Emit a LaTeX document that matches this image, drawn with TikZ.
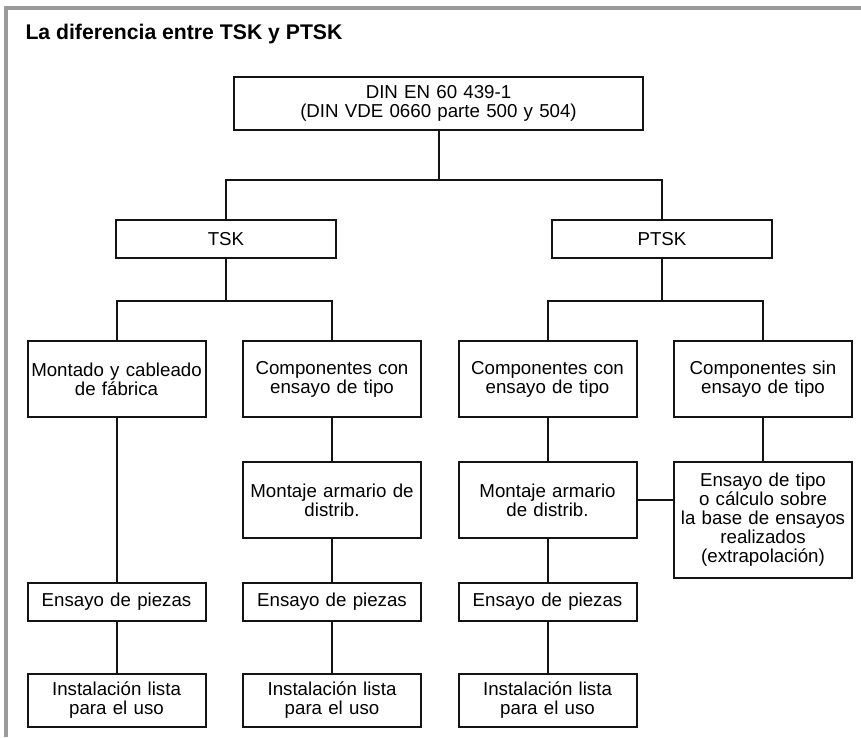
\documentclass[tikz,border=0pt]{standalone}
\usepackage{fontspec}
\setmainfont{Liberation Sans}
\usepackage{tikz}
\usetikzlibrary{positioning, calc}
\definecolor{framegray}{RGB}{155, 155, 155}
\definecolor{linkblack}{RGB}{20, 20, 20}
\tikzset{
  box/.style={rectangle, draw=linkblack, line width=2pt, text width=#1,
              minimum width=#1, align=center, inner sep=0pt,
              font=\fontsize{18.7}{19}\selectfont},
  box/.default=178pt,
  link/.style={draw=linkblack, line width=2pt},
  frameline/.style={draw=framegray, line width=4pt},
}

\begin{document}
\begin{tikzpicture}[x=1pt, y=-1pt]
  \useasboundingbox (0,0) rectangle (861,737);
  % Frame and title
  \draw[frameline] (6,737) -- (6,8) -- (861,8);
  \node[anchor=base west, font=\bfseries\fontsize{21.2}{25}\selectfont]
    (title) at (22,39) {La diferencia entre TSK y PTSK};
  % Top of the tree
  \node[box=409pt, minimum height=53pt] (din) at (438.5,103.5)
    {DIN EN 60 439-1\\(DIN VDE 0660 parte 500 y 504)};
  \node[box=220pt, minimum height=38pt] (tsk) at (226,239) {TSK};
  \node[box=220pt, minimum height=38pt] (ptsk) at (662,239) {PTSK};
  % First row
  \node[box, minimum height=76pt] (mont) at (116.5,379) {Montado y cableado\\de fábrica};
  \node[box, minimum height=76pt] (compA) at (332,379) {Componentes con\\ensayo de tipo};
  \node[box, minimum height=76pt] (compB) at (547.5,379) {Componentes con\\ensayo de tipo};
  \node[box, minimum height=76pt] (compsin) at (763,379) {Componentes sin\\ensayo de tipo};
  % Second row
  \node[box, minimum height=76pt] (montA) at (332,500) {Montaje armario de\\distrib.};
  \node[box, minimum height=76pt] (montB) at (547.5,500) {Montaje armario\\de distrib.};
  \node[box, minimum height=116pt] (enstipo) at (763,520)
    {Ensayo de tipo\\o cálculo sobre\\la base de ensayos\\realizados\\(extrapolación)};
  % Third row
  \node[box, minimum height=38pt] (piezA) at (116.5,602) {Ensayo de piezas};
  \node[box, minimum height=38pt] (piezB) at (332,602) {Ensayo de piezas};
  \node[box, minimum height=38pt] (piezC) at (547.5,602) {Ensayo de piezas};
  % Last row
  \node[box, minimum height=53pt] (instA) at (116.5,700.5) {Instalación lista\\para el uso};
  \node[box, minimum height=53pt] (instB) at (332,700.5) {Instalación lista\\para el uso};
  \node[box, minimum height=53pt] (instC) at (547.5,700.5) {Instalación lista\\para el uso};
  % Connectors
  \draw[link] (din.south) -- ++(0,49) -| (tsk.north);
  \draw[link] (din.south) -- ++(0,49) -| (ptsk.north);
  \draw[link] (tsk.south) -- ++(0,42) -| (mont.north);
  \draw[link] (tsk.south) -- ++(0,42) -| (compA.north);
  \draw[link] (ptsk.south) -- ++(0,42) -| (compB.north);
  \draw[link] (ptsk.south) -- ++(0,42) -| (compsin.north);
  \draw[link] (mont.south) -- (piezA.north);
  \draw[link] (piezA.south) -- (instA.north);
  \draw[link] (compA.south) -- (montA.north);
  \draw[link] (montA.south) -- (piezB.north);
  \draw[link] (piezB.south) -- (instB.north);
  \draw[link] (compB.south) -- (montB.north);
  \draw[link] (montB.south) -- (piezC.north);
  \draw[link] (piezC.south) -- (instC.north);
  \draw[link] (compsin.south) -- (enstipo.north);
  \draw[link] (montB.east) -- (montB.east -| enstipo.west);
\end{tikzpicture}
\end{document}
